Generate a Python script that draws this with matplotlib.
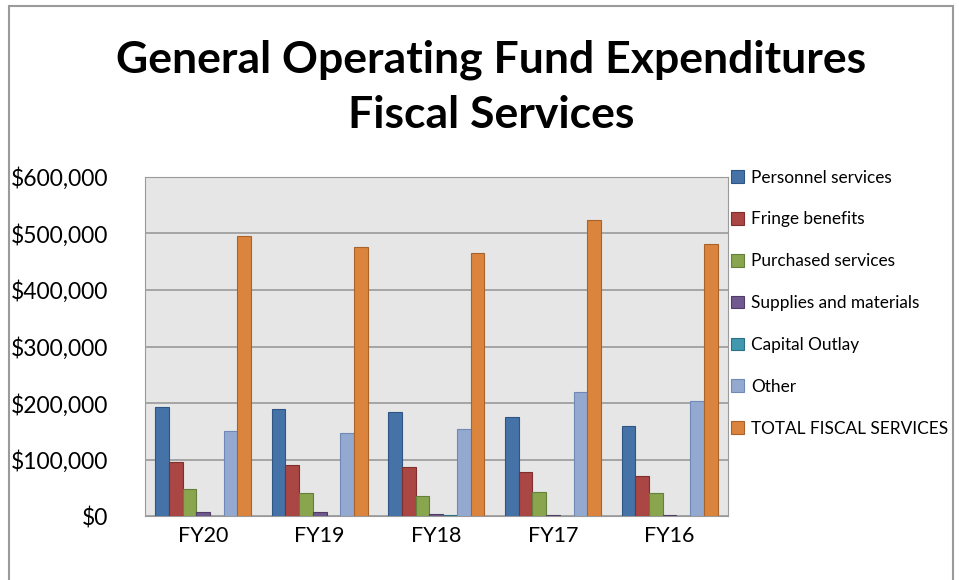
import matplotlib.pyplot as plt
import matplotlib.patches as mpatches
import numpy as np

years = ['FY20', 'FY19', 'FY18', 'FY17', 'FY16']
series = ['Personnel services', 'Fringe benefits', 'Purchased services',
          'Supplies and materials', 'Capital Outlay', 'Other', 'TOTAL FISCAL SERVICES']
personnel = [193000, 189000, 184000, 175000, 159000]
fringe = [96000, 90000, 87000, 78000, 71000]
purchased = [48000, 41000, 36000, 43000, 41000]
supplies = [7000, 7000, 4000, 2000, 2000]
capital = [500, 800, 1500, 500, 500]
other = [150000, 147000, 154000, 219000, 204000]
total = [495000, 476000, 465000, 524000, 481000]

colors = ['#4572A7', '#AA4643', '#89A54E', '#71588F', '#4198AF', '#93A9CF', '#DB843D']
edges = ['#2F5585', '#7F302E', '#64803A', '#4F3D66', '#2C7085', '#7088B5', '#A8622A']

plt.rcParams['font.family'] = ['Lato', 'DejaVu Sans']
fig = plt.figure(figsize=(9.59, 5.8), dpi=100)
ax = fig.add_axes([0.151, 0.110, 0.608, 0.585])
ax.set_facecolor('#E6E6E6')

x = np.arange(len(years))
w = 0.1175
data = [personnel, fringe, purchased, supplies, capital, other, total]
for i, vals in enumerate(data):
    ax.bar(x + (i - 3) * w, vals, w, color=colors[i], edgecolor=edges[i],
           linewidth=0.8, label=series[i], zorder=3)

ax.set_xlim(-0.5, 4.5)
ax.set_ylim(0, 600000)
ax.set_yticks(range(0, 600001, 100000))
ax.set_yticklabels(['$0'] + ['${:,}'.format(v) for v in range(100000, 600001, 100000)])
ax.set_xticks(x)
ax.set_xticklabels(years)
ax.tick_params(axis='both', length=0, colors='black')
ax.tick_params(axis='x', pad=7, labelsize=15.5)
ax.tick_params(axis='y', pad=26, labelsize=16.5)
ax.grid(axis='y', color='#9A9A9A', linewidth=1.2, zorder=0)
for s in ax.spines.values():
    s.set_color('#9A9A9A')

fig.text(0.512, 0.897, 'General Operating Fund Expenditures', fontsize=32,
         fontweight='bold', ha='center', va='center')
fig.text(0.512, 0.802, 'Fiscal Services', fontsize=32,
         fontweight='bold', ha='center', va='center')

ax.legend(loc='upper left', bbox_to_anchor=(0.985, 1.057), frameon=False,
          fontsize=12.4, labelspacing=1.5, handlelength=0.75, handleheight=0.75,
          handletextpad=0.4, borderaxespad=0.3)

fig.patches.append(mpatches.Rectangle((0.009, -0.05), 0.985, 1.04, transform=fig.transFigure,
                                      fill=False, edgecolor='#9A9A9A', linewidth=1.5))
plt.savefig('out.png', dpi=100)
